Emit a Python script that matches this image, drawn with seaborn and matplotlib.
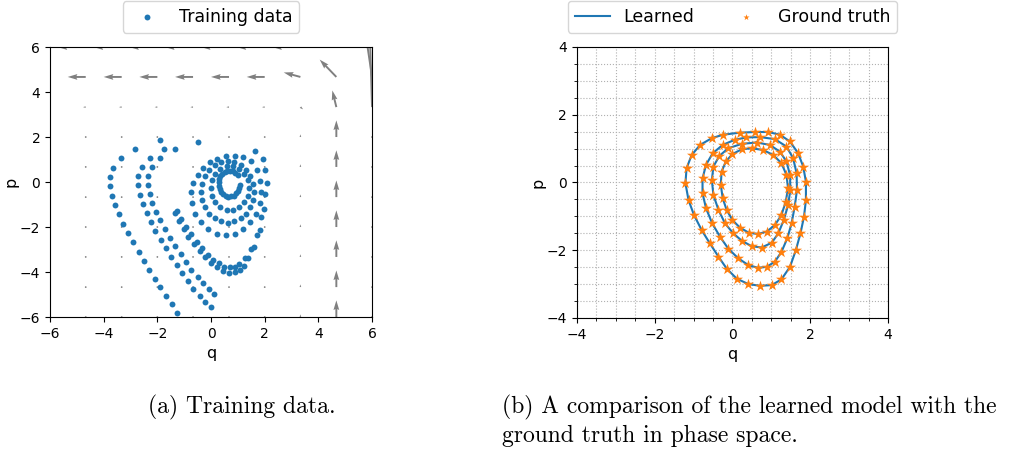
import numpy as np
import seaborn as sns
import matplotlib.pyplot as plt
from matplotlib.ticker import MultipleLocator

# ---- (a) training data: trajectories ----
arc_a_q = [-3.37, -3.64, -3.76, -3.76, -3.70, -3.58, -3.43, -3.27, -3.08, -2.90, -2.70, -2.50, -2.31, -2.10, -1.89, -1.68, -1.47, -1.27]
arc_a_p = [1.07, 0.64, 0.22, -0.19, -0.61, -1.02, -1.44, -1.85, -2.27, -2.68, -3.10, -3.50, -3.90, -4.30, -4.68, -5.07, -5.44, -5.81]

top_q = [-2.82, -1.91, -1.76, -1.35, -0.48]
top_p = [1.47, 1.88, 1.47, 1.47, 1.77]

arc_b_q = [-2.29, -2.59, -2.71, -2.71, -2.66, -2.55, -2.40, -2.24, -2.07, -1.87, -1.68, -1.48, -1.28, -1.08, -0.86, -0.66, -0.42, -0.21, -0.01]
arc_b_p = [1.05, 0.67, 0.25, -0.15, -0.56, -0.96, -1.36, -1.78, -2.18, -2.56, -2.95, -3.33, -3.69, -4.04, -4.40, -4.74, -5.05, -5.32, -5.56]

arc_c_q = [-1.91, -2.21, -2.34, -2.34, -2.29, -2.19, -2.06, -1.90, -1.73, -1.53, -1.33, -1.13, -0.93, -0.74, -0.49, -0.29, -0.08, 0.12]
arc_c_p = [1.07, 0.68, 0.28, -0.12, -0.52, -0.92, -1.32, -1.70, -2.09, -2.47, -2.84, -3.21, -3.57, -3.90, -4.24, -4.50, -4.76, -4.99]

band_q = [-1.35, -1.27, -1.21, -1.11, -1.02, -0.93, -0.84, -0.74, -0.63, -0.54, -0.42, -0.34, -0.23, -0.13,
          0.01, 0.08, 0.23, 0.30, 0.45, 0.49, 0.67, 0.69, 0.89, 0.89, 1.09, 1.06, 1.24, 1.27, 1.37, 1.49,
          1.59, 1.71, 1.81, 1.87, 1.98, 2.02, 2.07, 2.00, 1.92, 1.62]
band_p = [-1.39, -1.27, -1.75, -1.63, -2.10, -1.99, -2.43, -2.31, -2.76, -2.67, -3.05, -2.95, -3.33, -3.26,
          -3.60, -3.48, -3.79, -3.60, -3.96, -3.78, -4.03, -3.78, -4.00, -3.76, -3.93, -3.63, -3.75, -3.38, -3.37, -2.96,
          -2.89, -2.37, -2.15, -1.56, -1.19, -0.55, -0.04, 0.55, 1.04, 1.39]

ring_c_q = [1.85, 1.81, 1.70, 1.50, 1.20, 0.89, 0.55, 0.21, -0.05, -0.30, -0.50, -0.66, -0.74, -0.71, -0.58, -0.37,
            -0.10, 0.21, 0.55, 0.89, 1.20, 1.47, 1.68, 1.81]
ring_c_p = [-0.45, 0.04, 0.55, 0.92, 1.10, 1.16, 1.15, 1.02, 0.90, 0.62, 0.30, -0.05, -0.45, -0.94, -1.40, -1.79,
            -2.10, -2.29, -2.35, -2.29, -2.10, -1.79, -1.40, -0.94]

ring_b_q = [1.60, 1.57, 1.47, 1.31, 1.11, 0.87, 0.62, 0.37, 0.13, -0.07, -0.23, -0.33, -0.36, -0.33, -0.23, -0.07,
            0.13, 0.37, 0.62, 0.87, 1.11, 1.31, 1.47, 1.57]
ring_b_p = [-0.43, -0.08, 0.26, 0.54, 0.76, 0.89, 0.94, 0.89, 0.76, 0.54, 0.26, -0.08, -0.43, -0.78, -1.12, -1.40,
            -1.62, -1.75, -1.80, -1.75, -1.62, -1.40, -1.12, -0.78]

ring_a_q = [1.40, 1.36, 1.24, 1.05, 0.82, 0.58, 0.35, 0.16, 0.04, 0.00, 0.04, 0.16, 0.35, 0.58, 0.82, 1.05, 1.24, 1.36]
ring_a_p = [-0.27, 0.07, 0.37, 0.59, 0.71, 0.71, 0.59, 0.37, 0.07, -0.27, -0.61, -0.91, -1.13, -1.24, -1.24, -1.13, -0.91, -0.61]

spiral_q = [0.99, 0.91, 0.82, 0.71, 0.61, 0.51, 0.42, 0.35, 0.30, 0.28, 0.29, 0.32, 0.37, 0.45, 0.54, 0.65,
            0.75, 0.85, 0.94, 1.01, 1.06, 1.08]
spiral_p = [0.30, 0.41, 0.48, 0.51, 0.50, 0.46, 0.37, 0.26, 0.13, -0.02, -0.17, -0.32, -0.44, -0.55, -0.62, -0.65,
            -0.64, -0.60, -0.51, -0.40, -0.27, -0.12]

q_train = arc_a_q + top_q + arc_b_q + arc_c_q + band_q + ring_c_q + ring_b_q + ring_a_q + spiral_q
p_train = arc_a_p + top_p + arc_b_p + arc_c_p + band_p + ring_c_p + ring_b_p + ring_a_p + spiral_p

# vector field on a 10x10 grid (rows: p from -6 up to 6, cols: q from -6 to 6)
grid_q = [-6, -4.67, -3.33, -2, -0.67, 0.67, 2, 3.33, 4.67, 6]
grid_p = [-6, -4.67, -3.33, -2, -0.67, 0.67, 2, 3.33, 4.67, 6]
U = [[0, 0, 0, 0, 0, 0, 0, 0, 0, 0]] * 7 + [
    [-0.1, -0.1, -0.1, -0.1, -0.1, -0.1, -0.1, 0.1, -0.15, -0.1],
    [-0.67, -0.67, -0.67, -0.67, -0.67, -0.67, -0.67, -0.62, -0.62, -0.5],
    [-1.05, -1.05, -1.05, -1.05, -1.05, -1.05, -1.05, -1.05, -1.0, -1.0]]
V = [[0, 0, 0, 0, 0, 0, 0, 0.12, 0.74, 0.08]] * 7 + [
    [0, 0, 0, 0, 0, 0, 0, -0.1, 0.74, 4.0],
    [0, 0, 0, 0, 0, 0, 0, 0.2, 0.77, 4.0],
    [0, 0, 0, 0, 0, 0, 0, 0, 1.0, 5.0]]

# ---- (b) learned orbits vs ground truth ----
loop1_q = [0.92, 1.22, 1.48, 1.69, 1.82, 1.89, 1.89, 1.84, 1.75, 1.63, 1.48, 1.26, 1.01, 0.71, 0.41, 0.11, -0.15,
           -0.36, -0.58, -0.79, -0.99, -1.13, -1.21, -1.18, -1.05, -0.83, -0.53, -0.24, 0.19, 0.58]
loop1_p = [1.49, 1.41, 1.21, 0.86, 0.47, 0.02, -0.52, -1.01, -1.50, -2.00, -2.49, -2.86, -3.03, -3.05, -3.00, -2.84,
           -2.54, -2.19, -1.80, -1.41, -0.96, -0.52, -0.02, 0.42, 0.81, 1.11, 1.31, 1.41, 1.47, 1.49]
loop2_q = [0.71, 1.09, 1.39, 1.56, 1.65, 1.66, 1.60, 1.52, 1.41, 1.26, 1.09, 0.88, 0.66, 0.41, 0.15, -0.11, -0.32,
           -0.52, -0.68, -0.77, -0.77, -0.68, -0.51, -0.25, 0.06, 0.36]
loop2_p = [1.34, 1.28, 1.06, 0.72, 0.27, -0.22, -0.72, -1.21, -1.65, -2.05, -2.34, -2.49, -2.52, -2.44, -2.24,
           -1.95, -1.60, -1.21, -0.76, -0.32, 0.12, 0.52, 0.86, 1.11, 1.26, 1.33]
loop3_q = [0.62, 0.96, 1.22, 1.39, 1.48, 1.49, 1.43, 1.32, 1.18, 1.01, 0.75, 0.49, 0.24, 0.02, -0.19, -0.36, -0.49,
           -0.53, -0.49, -0.34, -0.11, 0.24]
loop3_p = [1.18, 1.11, 0.91, 0.62, 0.22, -0.22, -0.67, -1.11, -1.50, -1.78, -1.92, -1.88, -1.72, -1.50, -1.21,
           -0.81, -0.37, 0.07, 0.47, 0.78, 1.01, 1.14]
loop4_q = [0.49, 0.79, 1.05, 1.26, 1.39, 1.43, 1.37, 1.26, 1.09, 0.88, 0.66, 0.43, 0.19, 0.00, -0.15, -0.25, -0.30,
           -0.28, -0.17, 0.00, 0.24]
loop4_p = [1.01, 0.96, 0.81, 0.57, 0.22, -0.17, -0.57, -0.96, -1.26, -1.45, -1.52, -1.49, -1.33, -1.11, -0.81,
           -0.47, -0.07, 0.32, 0.62, 0.84, 0.98]
loops = [(loop1_q, loop1_p), (loop2_q, loop2_p), (loop3_q, loop3_p), (loop4_q, loop4_p)]

blue, orange = '#1f77b4', '#ff7f0e'

fig = plt.figure(figsize=(10.19, 4.57), dpi=100)
ax1 = fig.add_axes([0.0491, 0.3063, 0.316, 0.5908])
ax2 = fig.add_axes([0.5662, 0.3042, 0.3052, 0.593])

# left panel
Qg, Pg = np.meshgrid(grid_q, grid_p)
ax1.quiver(Qg, Pg, np.array(U), np.array(V), angles='xy', scale_units='xy', scale=1,
           color='gray', zorder=1)
sns.scatterplot(x=q_train, y=p_train, ax=ax1, s=18, color=blue, linewidth=0,
                label='Training data', zorder=3)
ax1.set_xlim(-6, 6)
ax1.set_ylim(-6, 6)
ax1.set_xticks([-6, -4, -2, 0, 2, 4, 6])
ax1.set_yticks([-6, -4, -2, 0, 2, 4, 6])
ax1.set_xlabel('q', fontsize=11.5)
ax1.set_ylabel('p', fontsize=11.5, labelpad=1)
ax1.legend(loc='lower center', bbox_to_anchor=(0.5, 1.02), fontsize=12.5)

# right panel
for i, (lq, lp) in enumerate(loops):
    sns.lineplot(x=lq + lq[:1], y=lp + lp[:1], ax=ax2, sort=False, estimator=None,
                 color=blue, linewidth=1.5, label='Learned' if i == 0 else None, zorder=2)
for i, (lq, lp) in enumerate(loops):
    sns.scatterplot(x=lq, y=lp, ax=ax2, marker='*', s=70, color=orange, linewidth=0,
                    label='Ground truth' if i == 0 else None, zorder=3)
ax2.set_xlim(-4, 4)
ax2.set_ylim(-4, 4)
ax2.set_xticks([-4, -2, 0, 2, 4])
ax2.set_yticks([-4, -2, 0, 2, 4])
ax2.xaxis.set_minor_locator(MultipleLocator(0.5))
ax2.yaxis.set_minor_locator(MultipleLocator(0.5))
ax2.set_axisbelow(True)
ax2.grid(True, which='both', linestyle=':', color='#b0b0b0', linewidth=0.8)
ax2.set_xlabel('q', fontsize=11.5)
ax2.set_ylabel('p', fontsize=11.5, labelpad=1)
ax2.legend(loc='lower center', bbox_to_anchor=(0.5, 1.02), ncol=2, fontsize=12.5,
           markerscale=0.55)

# captions
cap = dict(fontfamily='cmr10', fontsize=17, va='center')
fig.text(148 / 1019, 1 - 407 / 457, '(a) Training data.', **cap)
fig.text(502 / 1019, 1 - 407 / 457, '(b) A comparison of the learned model with the', **cap)
fig.text(502 / 1019, 1 - 436 / 457, 'ground truth in phase space.', **cap)

fig.savefig('out.png', dpi=100)
